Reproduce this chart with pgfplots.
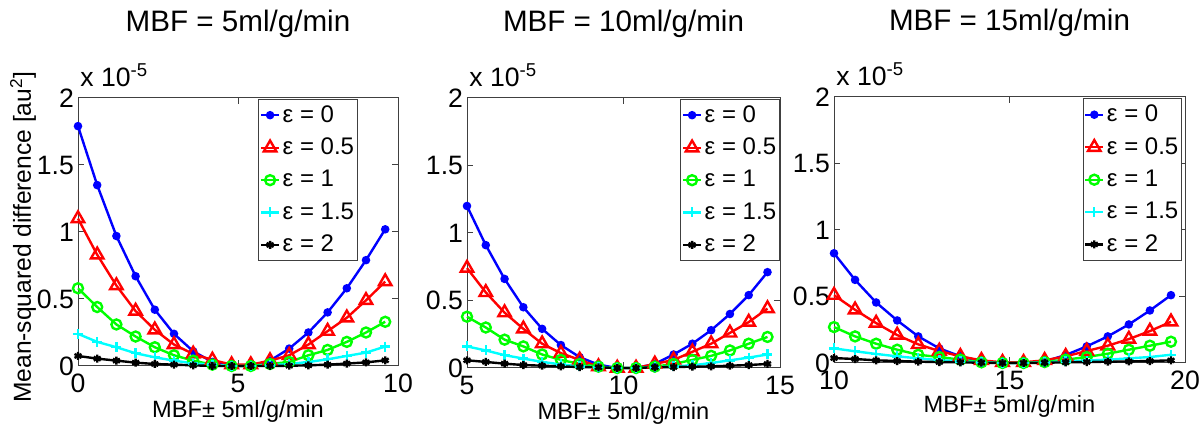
\documentclass[border=0pt]{standalone}
\usepackage{fontspec}
\setmainfont{Liberation Sans}
\usepackage{pgfplots}
\pgfplotsset{compat=1.18}
\definecolor{mblue}{rgb}{0,0,1}
\definecolor{mred}{rgb}{1,0,0}
\definecolor{mgreen}{rgb}{0,1,0}
\definecolor{mcyan}{rgb}{0,1,1}

\pgfplotsset{
  mbf/.style={
    scale only axis,
    clip=false,
    ymin=0, ymax=2,
    ytick={0,0.5,1,1.5,2},
    yticklabels={0,0.5,1,1.5,2},
    tick align=inside,
    major tick length=3pt,
    axis line style={draw=black!75, line width=0.5pt},
    every tick/.style={draw=black!75, line width=0.5pt},
    ticklabel style={font=\fontsize{13.3}{15}\selectfont},
    /pgf/number format/assume math mode=true,
    xticklabel style={yshift=-0.5pt},
    yticklabel style={xshift=1.5pt},
    xlabel={MBF± 5ml/g/min},
    xlabel style={at={(axis description cs:0.5,0)}, anchor=center, yshift=-22.5pt, font=\fontsize{11.8}{13}\selectfont},
    title style={at={(axis description cs:0.5,1)}, anchor=center, yshift=31pt, font=\fontsize{14.8}{17}\selectfont},
    legend style={draw=black!75, fill=white, line width=0.5pt,
      font=\fontsize{12}{14}\selectfont, inner xsep=0.5pt, inner ysep=1pt, row sep=2.4pt,
      nodes={inner xsep=1.2pt, inner ysep=2pt},
      cells={anchor=west}},
    legend cell align=left,
    legend image code/.code={\draw[mark repeat=2,mark phase=2] plot coordinates {(0pt,0pt)(4.5pt,0pt)(9pt,0pt)};},
    every axis plot/.append style={line width=1.2pt, mark options={solid}},
  },
  sB/.style={color=mblue, mark=*, mark size=1.5pt},
  sR/.style={color=mred, mark=triangle, mark size=3.6pt},
  sG/.style={color=mgreen, mark=o, mark size=2.5pt},
  sC/.style={color=mcyan, mark=+, mark size=2.5pt},
  sK/.style={color=black, mark=asterisk, mark size=2pt},
}

\begin{document}
\begin{tikzpicture}
\useasboundingbox (0,0) rectangle (601pt,213.5pt);

% Panel 1
\begin{axis}[mbf, at={(39pt,30.5pt)}, anchor=south west, width=160pt, height=134pt,
  xmin=0, xmax=10, xtick={0,5,10},
  title={MBF = 5ml/g/min},
  ylabel={Mean-squared difference [au\textsuperscript{2}]},
  ylabel style={at={(axis description cs:0,0.5)}, anchor=center, rotate=0, xshift=-2.5pt, yshift=27.5pt, font=\fontsize{12.3}{14}\selectfont},
  legend style={at={(0.875,0.997)}, anchor=north east}]
\addplot[sB] coordinates {(0,1.79)(0.6,1.35)(1.2,0.97)(1.8,0.67)(2.4,0.42)(3.0,0.24)(3.6,0.11)(4.2,0.03)(4.8,0)(5.4,0)(6.0,0.04)(6.6,0.13)(7.2,0.25)(7.8,0.40)(8.4,0.58)(9.0,0.79)(9.6,1.02)};
\addplot[sR] coordinates {(0,1.10)(0.6,0.83)(1.2,0.60)(1.8,0.41)(2.4,0.27)(3.0,0.16)(3.6,0.09)(4.2,0.045)(4.8,0.01)(5.4,0.01)(6.0,0.04)(6.6,0.08)(7.2,0.16)(7.8,0.26)(8.4,0.36)(9.0,0.49)(9.6,0.63)};
\addplot[sG] coordinates {(0,0.58)(0.6,0.44)(1.2,0.31)(1.8,0.22)(2.4,0.14)(3.0,0.08)(3.6,0.04)(4.2,0.01)(4.8,0)(5.4,0)(6.0,0.015)(6.6,0.03)(7.2,0.08)(7.8,0.12)(8.4,0.18)(9.0,0.25)(9.6,0.33)};
\addplot[sC] coordinates {(0,0.24)(0.6,0.18)(1.2,0.14)(1.8,0.095)(2.4,0.065)(3.0,0.04)(3.6,0.02)(4.2,0.01)(4.8,0)(5.4,0)(6.0,0.005)(6.6,0.015)(7.2,0.03)(7.8,0.05)(8.4,0.075)(9.0,0.10)(9.6,0.145)};
\addplot[sK] coordinates {(0,0.075)(0.6,0.055)(1.2,0.04)(1.8,0.025)(2.4,0.015)(3.0,0.01)(3.6,0.005)(4.2,0)(4.8,0)(5.4,0)(6.0,0)(6.6,0.002)(7.2,0.005)(7.8,0.01)(8.4,0.018)(9.0,0.027)(9.6,0.042)};
\legend{ε = 0, ε = 0.5, ε = 1, ε = 1.5, ε = 2}
\node[anchor=base west, inner sep=0pt, font=\fontsize{13.3}{15}\selectfont] at ([xshift=1pt,yshift=5.5pt]rel axis cs:0,1) {x 10\textsuperscript{-5}};
\end{axis}

% Panel 2
\begin{axis}[mbf, at={(233.5pt,29.5pt)}, anchor=south west, width=156.5pt, height=135pt,
  xmin=5, xmax=15, xtick={5,10,15},
  title={MBF = 10ml/g/min},
  legend style={at={(1,0.997)}, anchor=north east}]
\addplot[sB] coordinates {(5,1.20)(5.6,0.91)(6.2,0.66)(6.8,0.45)(7.4,0.29)(8.0,0.17)(8.6,0.08)(9.2,0.025)(9.8,0)(10.4,0)(11.0,0.03)(11.6,0.10)(12.2,0.18)(12.8,0.28)(13.4,0.40)(14.0,0.54)(14.6,0.71)};
\addplot[sR] coordinates {(5,0.74)(5.6,0.56)(6.2,0.41)(6.8,0.29)(7.4,0.18)(8.0,0.11)(8.6,0.06)(9.2,0.01)(9.8,0)(10.4,0)(11.0,0.03)(11.6,0.06)(12.2,0.12)(12.8,0.18)(13.4,0.26)(14.0,0.34)(14.6,0.44)};
\addplot[sG] coordinates {(5,0.38)(5.6,0.30)(6.2,0.21)(6.8,0.16)(7.4,0.10)(8.0,0.06)(8.6,0.03)(9.2,0.01)(9.8,0)(10.4,0)(11.0,0.01)(11.6,0.03)(12.2,0.06)(12.8,0.09)(13.4,0.13)(14.0,0.18)(14.6,0.23)};
\addplot[sC] coordinates {(5,0.16)(5.6,0.13)(6.2,0.095)(6.8,0.07)(7.4,0.045)(8.0,0.027)(8.6,0.012)(9.2,0.005)(9.8,0)(10.4,0)(11.0,0.005)(11.6,0.012)(12.2,0.02)(12.8,0.037)(13.4,0.057)(14.0,0.077)(14.6,0.10)};
\addplot[sK] coordinates {(5,0.057)(5.6,0.045)(6.2,0.032)(6.8,0.022)(7.4,0.017)(8.0,0.012)(8.6,0.007)(9.2,0.005)(9.8,0)(10.4,0)(11.0,0.005)(11.6,0.007)(12.2,0.01)(12.8,0.012)(13.4,0.017)(14.0,0.022)(14.6,0.03)};
\legend{ε = 0, ε = 0.5, ε = 1, ε = 1.5, ε = 2}
\node[anchor=base west, inner sep=0pt, font=\fontsize{13.3}{15}\selectfont] at ([xshift=1pt,yshift=5.5pt]rel axis cs:0,1) {x 10\textsuperscript{-5}};
\end{axis}

% Panel 3
\begin{axis}[mbf, at={(417pt,32pt)}, anchor=south west, width=175.5pt, height=133pt,
  xmin=10, xmax=20, xtick={10,15,20},
  title={MBF = 15ml/g/min},
  xlabel style={yshift=1pt},
  legend style={at={(0.992,0.995)}, anchor=north east}]
\addplot[sB] coordinates {(10,0.825)(10.6,0.625)(11.2,0.455)(11.8,0.32)(12.4,0.20)(13.0,0.11)(13.6,0.05)(14.2,0.012)(14.8,0)(15.4,0)(16.0,0.012)(16.6,0.06)(17.2,0.125)(17.8,0.20)(18.4,0.29)(19.0,0.395)(19.6,0.51)};
\addplot[sR] coordinates {(10,0.51)(10.6,0.40)(11.2,0.30)(11.8,0.21)(12.4,0.14)(13.0,0.09)(13.6,0.05)(14.2,0.02)(14.8,0.005)(15.4,0.005)(16.0,0.02)(16.6,0.05)(17.2,0.09)(17.8,0.13)(18.4,0.18)(19.0,0.24)(19.6,0.31)};
\addplot[sG] coordinates {(10,0.27)(10.6,0.20)(11.2,0.145)(11.8,0.10)(12.4,0.062)(13.0,0.045)(13.6,0.025)(14.2,0.005)(14.8,0)(15.4,0)(16.0,0.007)(16.6,0.025)(17.2,0.045)(17.8,0.07)(18.4,0.10)(19.0,0.13)(19.6,0.16)};
\addplot[sC] coordinates {(10,0.11)(10.6,0.088)(11.2,0.068)(11.8,0.05)(12.4,0.035)(13.0,0.022)(13.6,0.012)(14.2,0.005)(14.8,0)(15.4,0)(16.0,0.005)(16.6,0.012)(17.2,0.018)(17.8,0.025)(18.4,0.035)(19.0,0.045)(19.6,0.062)};
\addplot[sK] coordinates {(10,0.037)(10.6,0.03)(11.2,0.02)(11.8,0.015)(12.4,0.01)(13.0,0.007)(13.6,0.005)(14.2,0.002)(14.8,0)(15.4,0)(16.0,0.002)(16.6,0.005)(17.2,0.007)(17.8,0.01)(18.4,0.012)(19.0,0.015)(19.6,0.02)};
\legend{ε = 0, ε = 0.5, ε = 1, ε = 1.5, ε = 2}
\node[anchor=base west, inner sep=0pt, font=\fontsize{13.3}{15}\selectfont] at ([xshift=1pt,yshift=5.5pt]rel axis cs:0,1) {x 10\textsuperscript{-5}};
\end{axis}
\end{tikzpicture}
\end{document}
